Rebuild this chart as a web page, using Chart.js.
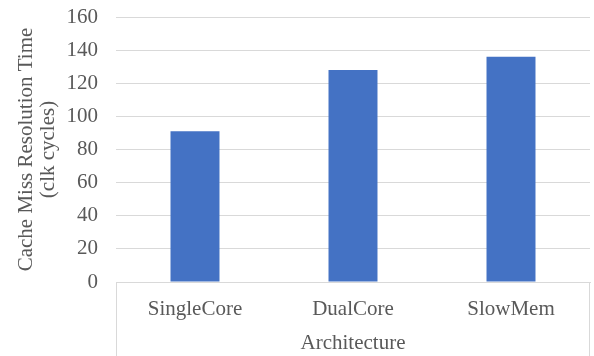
<!DOCTYPE html>
<html>
<head>
<meta charset="utf-8">
<script src="https://cdn.jsdelivr.net/npm/chart.js@4/dist/chart.umd.min.js"></script>
<style>
  html, body { margin: 0; padding: 0; background: #fff; }
  #wrap { width: 594px; height: 356px; position: relative; }
</style>
</head>
<body>
<div id="wrap"><canvas id="chart"></canvas></div>
<script>
const categories = ['SingleCore', 'DualCore', 'SlowMem'];
const missTimes = [91, 128, 136];
const yTitleLines = ['Cache Miss Resolution Time', '(clk cycles)'];
const xTitle = 'Architecture';

const textColor = '#595959';
const lineColor = '#d9d9d9';
const serif = "'Liberation Serif', 'Times New Roman', serif";

// box around the category axis area (Excel style)
const axisBox = {
  id: 'axisBox',
  afterDraw(chart) {
    const { ctx, chartArea } = chart;
    ctx.save();
    ctx.strokeStyle = lineColor;
    ctx.lineWidth = 1;
    ctx.beginPath();
    ctx.moveTo(Math.round(chartArea.left) + 0.5, chartArea.bottom);
    ctx.lineTo(Math.round(chartArea.left) + 0.5, chart.height);
    ctx.moveTo(Math.round(chartArea.right) - 0.5, chartArea.bottom);
    ctx.lineTo(Math.round(chartArea.right) - 0.5, chart.height);
    ctx.stroke();
    ctx.restore();
  }
};

new Chart(document.getElementById('chart'), {
  type: 'bar',
  data: {
    labels: categories,
    datasets: [{
      data: missTimes,
      backgroundColor: '#4472c4',
      barPercentage: 0.31,
      categoryPercentage: 1
    }]
  },
  options: {
    responsive: true,
    maintainAspectRatio: false,
    animation: false,
    layout: { padding: { top: 17, right: 4, left: 0, bottom: 0 } },
    plugins: {
      legend: { display: false },
      tooltip: { enabled: false }
    },
    scales: {
      x: {
        grid: { display: false, drawTicks: false },
        border: { display: true, color: lineColor },
        ticks: { color: textColor, font: { family: serif, size: 21 }, padding: 15 },
        title: {
          display: true, text: xTitle, color: textColor,
          font: { family: serif, size: 21 }, padding: { top: -3, bottom: 0 }
        },
        afterFit(scale) { scale.height = 74; }
      },
      y: {
        min: 0,
        max: 160,
        ticks: { stepSize: 20, color: textColor, font: { family: serif, size: 21 }, padding: 18 },
        grid: { color: lineColor, drawTicks: false },
        border: { display: false },
        title: {
          display: true, text: yTitleLines, color: textColor,
          font: { family: serif, size: 21, lineHeight: 1.05 }, padding: { top: 15, bottom: 0 }
        },
        afterFit(scale) {
          scale.width = 116;
          scale.paddingTop = 0;
          scale.paddingBottom = 0;
        }
      }
    }
  },
  plugins: [axisBox]
});
</script>
</body>
</html>
